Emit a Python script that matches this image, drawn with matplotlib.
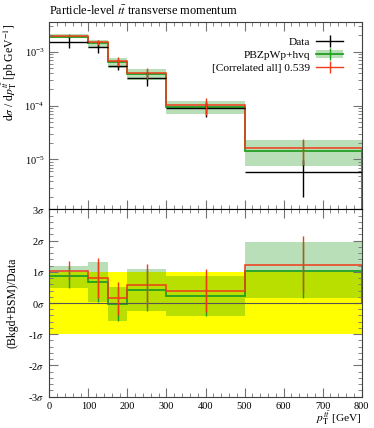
import numpy as np
import matplotlib
matplotlib.use("Agg")
import matplotlib.pyplot as plt
from matplotlib.lines import Line2D
from matplotlib.patches import Patch
from matplotlib.ticker import MultipleLocator, FuncFormatter

plt.rcParams['font.family'] = ['Liberation Serif', 'DejaVu Serif']
plt.rcParams['mathtext.fontset'] = 'stix'

# bin edges in pT(tt) [GeV]
edges = [0, 100, 150, 200, 300, 500, 800]

# upper panel: differential cross section [pb/GeV]
data = [1.53e-3, 1.21e-3, 5.5e-4, 3.24e-4, 8.95e-5, 5.8e-6]
data_err = [3.7e-4, 2.8e-4, 0.9e-4, 0.94e-4, 2.9e-5, 3.8e-6]
mc = [1.9e-3, 1.47e-3, 6.5e-4, 3.85e-4, 9.4e-5, 1.45e-5]
mc_lo = [1.77e-3, 1.16e-3, 5.04e-4, 2.98e-4, 6.95e-5, 7.6e-6]
mc_hi = [2.10e-3, 1.67e-3, 7.54e-4, 4.71e-4, 1.21e-4, 2.29e-5]
corr = [1.98e-3, 1.5e-3, 6.7e-4, 4.0e-4, 1.01e-4, 1.6e-5]
corr_err = [1.0e-4, 1.8e-4, 1.2e-4, 0.9e-4, 3.5e-5, 8e-6]

# lower panel: deviation in units of sigma
data_band = [1, 1, 1, 1, 1, 1]
r_mc = [0.88, 0.67, -0.02, 0.41, 0.21, 1.04]
r_mc_lo = [0.48, 0.02, -0.59, -0.25, -0.43, 0.16]
r_mc_hi = [1.17, 1.31, 0.50, 1.09, 0.88, 1.96]
r_corr = [1.04, 0.80, 0.15, 0.57, 0.40, 1.23]
r_corr_err = [0.30, 0.64, 0.52, 0.69, 0.69, 0.92]

edges_a = np.array(edges)
centers = 0.5 * (edges_a[1:] + edges_a[:-1])
halfw = 0.5 * np.diff(edges_a)

green_band = (0.0, 0.56, 0.0, 0.28)
green = '#22a022'
red = '#f03a1a'

fig = plt.figure(figsize=(3.74, 4.28), dpi=100)
ax = fig.add_axes([0.132, 0.511, 0.835, 0.4376])
axr = fig.add_axes([0.132, 0.0731, 0.835, 0.4379])

# --- upper panel
ax.stairs(mc_hi, edges, baseline=mc_lo, fill=True, color=green_band, lw=0)
ax.errorbar(centers, mc, yerr=[np.subtract(mc, mc_lo), np.subtract(mc_hi, mc)],
            fmt='none', ecolor=green, elinewidth=1)
ax.stairs(mc, edges, color=green, lw=1.3)
ax.errorbar(centers, data, xerr=halfw, yerr=data_err, fmt='none', ecolor='black', elinewidth=1)
ax.stairs(corr, edges, color=red, lw=1.1)
ax.errorbar(centers, corr, yerr=corr_err, fmt='none', ecolor=red, elinewidth=1)

ax.set_yscale('log')
ax.set_ylim(1.19e-6, 3.56e-3)
ax.set_xlim(0, 800)
ax.set_xticklabels([])
ax.set_ylabel(r'd$\sigma$ / d$p_{\mathrm{T}}^{t\bar{t}}$ [pb GeV$^{-1}$]', fontsize=8.5, loc='top')
ax.yaxis.set_label_coords(-0.098, 0.99)

handles = [
    Line2D([], [], color='black', marker='|', markersize=8, lw=1),
    (Patch(facecolor=green_band, lw=0), Line2D([], [], color=green, marker='|', markersize=8, lw=1.3)),
    Line2D([], [], color=red, marker='|', markersize=8, lw=1),
]
labels = ['Data', 'PBZpWp+hvq', '[Correlated all] 0.539']
ax.legend(handles, labels, loc='upper right', bbox_to_anchor=(0.963, 0.955), frameon=False,
          markerfirst=False, fontsize=8.2, handlelength=2.4, handletextpad=0.5,
          labelspacing=0.25, borderaxespad=0.2)

fig.text(0.132, 0.965, r'Particle-level $t\bar{t}$ transverse momentum', fontsize=8.8, va='baseline')

# --- ratio panel
axr.stairs(data_band, edges, baseline=-1, fill=True, color='#ffff00', lw=0)
axr.stairs(r_mc_hi, edges, baseline=r_mc_lo, fill=True, color=green_band, lw=0)
axr.axhline(0, color='#555555', lw=0.8)
axr.errorbar(centers, r_mc, yerr=[np.subtract(r_mc, r_mc_lo), np.subtract(r_mc_hi, r_mc)],
             fmt='none', ecolor=green, elinewidth=1)
axr.stairs(r_mc, edges, color=green, lw=1.3)
axr.stairs(r_corr, edges, color=red, lw=1.1)
axr.errorbar(centers, r_corr, yerr=r_corr_err, fmt='none', ecolor=red, elinewidth=1)

axr.set_xlim(0, 800)
axr.set_ylim(-3, 3)
axr.yaxis.set_major_locator(MultipleLocator(1))
axr.yaxis.set_minor_locator(MultipleLocator(0.2))
axr.yaxis.set_major_formatter(FuncFormatter(lambda v, p: '%d$\\sigma$' % round(v)))
axr.set_ylabel('(Bkgd+BSM)/Data', fontsize=8.5)
axr.yaxis.set_label_coords(-0.098, 0.5)
axr.set_xlabel(r'$p_{\mathrm{T}}^{t\bar{t}}$ [GeV]', fontsize=8.2, loc='right', labelpad=-1)

for a in (ax, axr):
    a.xaxis.set_major_locator(MultipleLocator(100))
    a.xaxis.set_minor_locator(MultipleLocator(20))
    a.tick_params(which='both', direction='in', top=True, right=True, color='0.45', labelsize=7.5)
    a.tick_params(which='major', length=6.5, width=0.8)
    a.tick_params(which='minor', length=3, width=0.6)
    for s in a.spines.values():
        s.set_color('0.25')
        s.set_linewidth(0.8)
axr.spines['top'].set_color('black')

fig.savefig('out.png', dpi=100)
